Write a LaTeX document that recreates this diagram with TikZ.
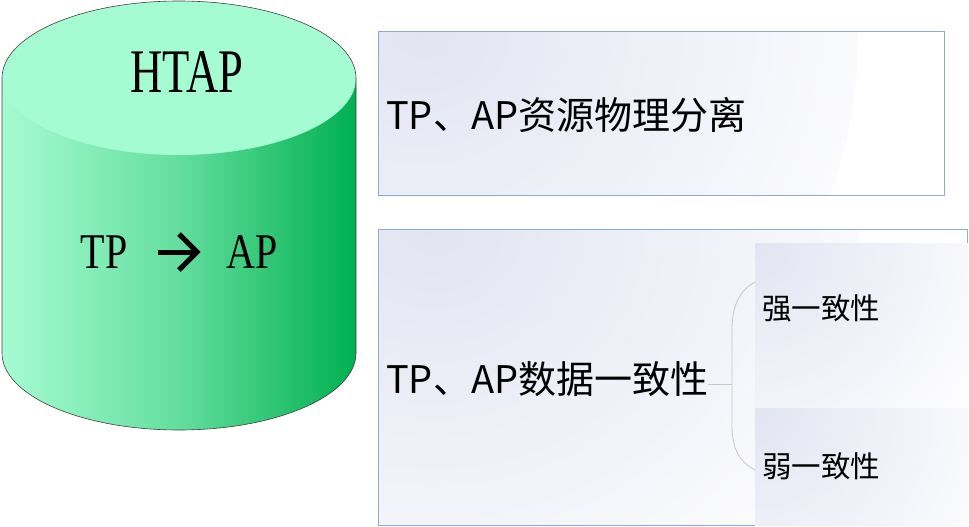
\documentclass[tikz,border=0pt]{standalone}
\usepackage{fontspec}
\setmainfont{Liberation Serif}
\newfontfamily\cjk{Noto Sans CJK SC}
\definecolor{cyllight}{HTML}{A6FCD2}
\definecolor{cyldark}{HTML}{00B050}
\definecolor{boxborder}{HTML}{8EA9DB}
\definecolor{lav}{HTML}{E2E4F2}
\definecolor{conncol}{HTML}{C8C8C8}
\pgfdeclareradialshading{lavfade}{\pgfpoint{0bp}{0bp}}{color(0bp)=(lav); color(25bp)=(white); color(50bp)=(white)}
\tikzset{
  cyltext/.style={inner sep=0pt, font=\fontsize{62}{62}\selectfont},
  flowbox/.style={draw=boxborder, line width=1pt, fill=white, inner sep=0pt,
    path picture={\shade[shading=lavfade] (path picture bounding box.north west) circle (480pt);}},
  subbox/.style={fill=white, inner sep=0pt,
    path picture={\shade[shading=lavfade] (path picture bounding box.north west) circle (280pt);}},
  maintext/.style={inner sep=0pt, anchor=west, font=\cjk\fontsize{38}{38}\selectfont},
  subtext/.style={inner sep=0pt, anchor=west, font=\cjk\fontsize{29.5}{29.5}\selectfont},
  conn/.style={draw=conncol, line width=0.8pt},
  bigarrow/.style={line width=5pt}
}
\begin{document}
\begin{tikzpicture}[x=1pt,y=-1pt]
\useasboundingbox (0,0) rectangle (969,527);
% cylinder body
\shade[left color=cyllight, right color=cyldark, middle color=cyllight!60!cyldark]
  (2,78) -- (2,353) arc[start angle=180,end angle=360,x radius=177pt,y radius=77pt] -- (356,78) -- cycle;
\fill[cyllight] (179,78) ellipse [x radius=177pt, y radius=77pt];
\draw[black!75, line width=0.6pt]
  (2,353) -- (2,78) arc[start angle=180,end angle=0,x radius=177pt,y radius=77pt] -- (356,353)
  arc[start angle=0,end angle=-180,x radius=177pt,y radius=77pt];
\node[cyltext] (htap) at (187,72) {\scalebox{0.72}[1]{HTAP}};
\node[cyltext, font=\fontsize{50}{50}\selectfont] (tp) at (104,252) {\scalebox{0.8}[1]{TP}};
\node[cyltext, font=\fontsize{50}{50}\selectfont] (ap) at (252,252) {\scalebox{0.8}[1]{AP}};
\coordinate (arrs) at (158,252);
\coordinate (arre) at (197,252);
\draw[bigarrow] (arrs) -- (arre);
\draw[bigarrow, miter limit=10] ([xshift=-18pt,yshift=18pt]arre) -- (arre) -- ([xshift=-18pt,yshift=-18pt]arre);
% boxes
\node[flowbox, minimum width=566pt, minimum height=164pt, anchor=north west] (b1) at (378,31) {};
\node[maintext] (t1) at (386,115) {TP、AP资源物理分离};
\node[flowbox, minimum width=589pt, minimum height=296pt, anchor=north west] (b2) at (378,229) {};
\node[subbox, minimum width=213pt, minimum height=165pt, anchor=north west] (s1box) at (755,243) {};
\node[subbox, minimum width=213pt, minimum height=117pt, anchor=north west] (s2box) at (755,408) {};
\node[maintext] (t2) at (386,379) {TP、AP数据一致性};
\node[subtext] (s1) at (762,308) {强一致性};
\node[subtext] (s2) at (762,466) {弱一致性};
\coordinate (jn) at (732,384);
\coordinate (c1) at (755,282);
\coordinate (c2) at (755,470);
\draw[conn] (t2.east |- jn) -- (jn);
\draw[conn] (c1) .. controls (740,290) and (732,305) .. (732,330) -- (732,425) .. controls (732,450) and (740,462) .. (c2);
\end{tikzpicture}
\end{document}
